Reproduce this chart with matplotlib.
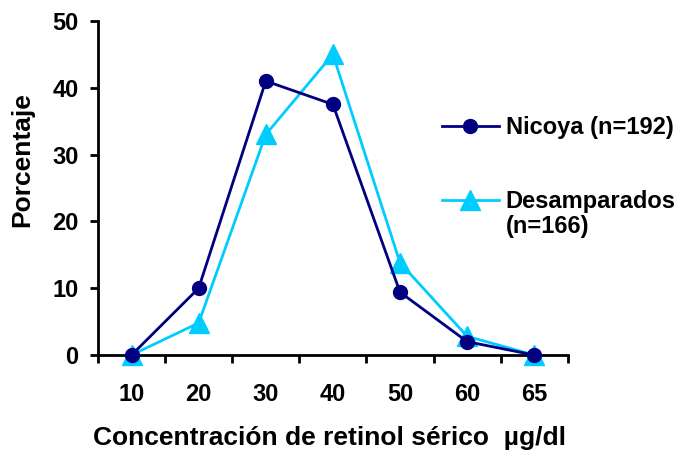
import numpy as np
import matplotlib.pyplot as plt
from matplotlib.lines import Line2D
from matplotlib.ticker import FixedLocator, NullFormatter

plt.rcParams['font.family'] = ['Liberation Sans', 'DejaVu Sans']
plt.rcParams['font.weight'] = 'bold'

# data
categories = ['10', '20', '30', '40', '50', '60', '65']
nicoya = [0, 10, 41, 37.5, 9.4, 2, 0]
desamparados = [0, 4.8, 33, 45, 13.8, 2.8, 0]

navy = '#000080'
cyan = '#00CCFF'

fig = plt.figure(figsize=(6.78, 4.54), dpi=100)
ax = fig.add_axes([0.1445, 0.218, 0.693, 0.736])

x = np.arange(len(categories))
l1, = ax.plot(x, nicoya, color=navy, lw=2, marker='o', ms=10,
              clip_on=False, zorder=5)
l2, = ax.plot(x, desamparados, color=cyan, lw=2, marker='^', ms=14,
              clip_on=False, zorder=4)

ax.set_xlim(-0.5, len(categories) - 0.5)
ax.set_ylim(0, 50)
ax.set_yticks([0, 10, 20, 30, 40, 50])

# tick marks between categories, labels at category centres
ax.xaxis.set_major_locator(FixedLocator(np.arange(-0.5, len(categories), 1)))
ax.xaxis.set_major_formatter(NullFormatter())
ax.xaxis.set_minor_locator(FixedLocator(x))
ax.set_xticklabels(categories, minor=True)
ax.tick_params(axis='x', which='minor', length=0, pad=20, labelsize=17)
ax.tick_params(axis='x', which='major', length=6, width=2, direction='out')
ax.tick_params(axis='y', length=6, width=2, direction='out', labelsize=17, pad=8)

for s in ['top', 'right']:
    ax.spines[s].set_visible(False)
for s in ['left', 'bottom']:
    ax.spines[s].set_linewidth(2)

ax.set_xlabel('Concentración de retinol sérico  µg/dl', fontsize=19,
              fontweight='bold', va='top')
ax.xaxis.set_label_coords(0.4926, -0.212)
ax.set_ylabel('Porcentaje', fontsize=19, fontweight='bold')
ax.yaxis.set_label_coords(-0.136, 0.584)

leg1 = ax.legend([l1], ['Nicoya (n=192)'], loc='center left',
                 bbox_to_anchor=(0.732, 0.68), frameon=False, fontsize=17,
                 handlelength=2.4, handletextpad=0.3, borderaxespad=0,
                 borderpad=0)
ax.add_artist(leg1)
blank = Line2D([], [], color='none')
ax.legend([l2, blank], ['Desamparados', '(n=166)'], loc='center left',
          bbox_to_anchor=(0.732, 0.422), frameon=False, fontsize=17,
          handlelength=2.4, handletextpad=0.3, borderaxespad=0,
          borderpad=0, labelspacing=0.05)

fig.savefig('out.png', dpi=100)
